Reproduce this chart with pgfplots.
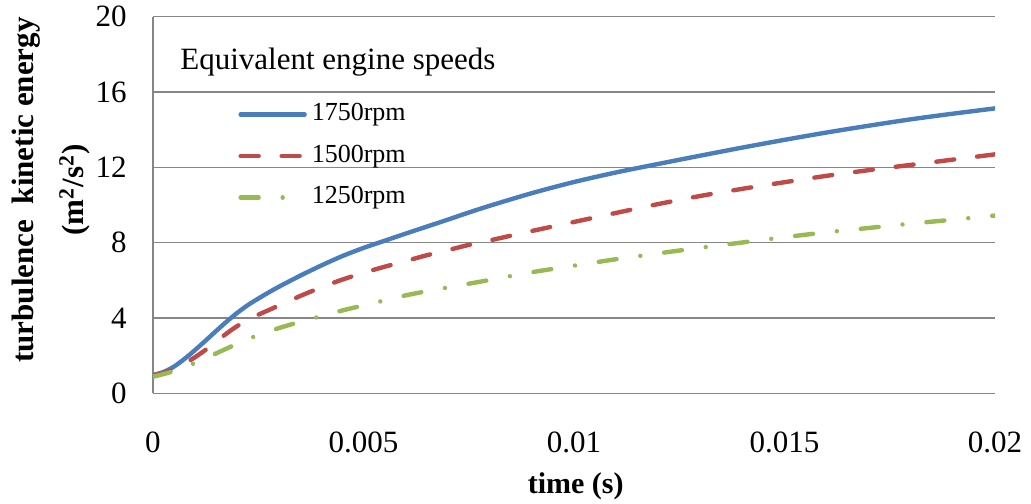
\documentclass[border=0pt]{standalone}
\usepackage{fontspec}
\setmainfont{Liberation Serif}
\usepackage{pgfplots}
\usepackage{pgfplotstable}
\pgfplotsset{compat=1.18}

\definecolor{cblue}{HTML}{4A7EBB}
\definecolor{cred}{HTML}{BE4B48}
\definecolor{cgreen}{HTML}{98B954}
\definecolor{gridgray}{HTML}{868686}

\pgfplotstableread{
t v
0 0.97
0.00025 1.13
0.0005 1.42
0.00075 1.83
0.001 2.30
0.00125 2.80
0.0015 3.31
0.00175 3.81
0.002 4.27
0.00225 4.68
0.0025 5.03
0.00275 5.36
0.003 5.67
0.0035 6.25
0.004 6.79
0.0045 7.29
0.005 7.72
0.0055 8.10
0.006 8.48
0.0065 8.85
0.007 9.22
0.0075 9.60
0.008 9.96
0.009 10.63
0.010 11.22
0.011 11.73
0.012 12.18
0.013 12.62
0.014 13.05
0.015 13.46
0.016 13.85
0.017 14.21
0.018 14.55
0.019 14.85
0.020 15.13
}\blue

\pgfplotstableread{
t v
0 0.95
0.00025 1.08
0.0005 1.30
0.00075 1.58
0.001 1.92
0.00125 2.31
0.0015 2.74
0.00175 3.18
0.002 3.57
0.00225 3.89
0.0025 4.17
0.00275 4.42
0.003 4.67
0.0035 5.17
0.004 5.63
0.0045 6.04
0.005 6.40
0.0055 6.72
0.006 7.02
0.0065 7.33
0.007 7.60
0.0075 7.88
0.008 8.12
0.009 8.62
0.010 9.10
0.011 9.58
0.012 10.05
0.013 10.48
0.014 10.86
0.015 11.21
0.016 11.55
0.017 11.85
0.018 12.13
0.019 12.41
0.020 12.69
}\red

\pgfplotstableread{
t v
0 0.88
0.0005 1.18
0.001 1.62
0.0015 2.12
0.002 2.63
0.0025 3.10
0.003 3.47
0.0035 3.80
0.004 4.10
0.0045 4.40
0.005 4.67
0.0055 4.93
0.006 5.20
0.0065 5.42
0.007 5.62
0.008 6.02
0.009 6.43
0.010 6.78
0.011 7.12
0.012 7.43
0.013 7.73
0.014 8.01
0.015 8.29
0.016 8.55
0.017 8.78
0.018 9.01
0.019 9.22
0.020 9.44
}\green

\begin{document}
\begin{tikzpicture}
\begin{axis}[
  scale only axis,
  width=421pt, height=188.3pt,
  xmin=0, xmax=0.02, ymin=0, ymax=20,
  axis x line*=bottom, axis y line*=left,
  axis line style={draw=gridgray, line width=0.7pt, -},
  x axis line style={-}, y axis line style={-},
  xtick={0,0.005,0.01,0.015,0.02},
  xticklabels={0,0.005,0.01,0.015,0.02},
  ytick={0,4,8,12,16,20},
  yticklabels={0,4,8,12,16,20},
  scaled x ticks=false,
  major tick length=0pt,
  tick style={draw=none},
  ymajorgrids,
  grid style={draw=gridgray, line width=0.7pt},
  xticklabel style={font=\fontsize{15.5}{18}\selectfont, inner sep=0pt, anchor=north, yshift=-18.9pt},
  yticklabel style={font=\fontsize{15.5}{18}\selectfont, inner sep=0pt, anchor=east, xshift=-13pt},
  xlabel={\textbf{time (s)}},
  xlabel style={font=\fontsize{15}{18}\selectfont, inner sep=0pt, at={(axis description cs:0.502,0)}, anchor=north, yshift=-39.3pt},
  ylabel={\textbf{turbulence\ \ kinetic energy}\\\textbf{(m\textsuperscript{2}/s\textsuperscript{2})}},
  ylabel style={font=\fontsize{15.5}{25}\selectfont, align=center, inner sep=0pt, at={(axis description cs:-0.1205,0.54)}, anchor=center},
  legend style={at={(axis description cs:0.101,0.773)}, anchor=north west, draw=none, fill=none,
    inner sep=0pt, row sep=8.75pt, column sep=2.5pt,
    nodes={inner sep=0pt, text height=9pt, text depth=3pt, font=\fontsize{13}{15}\selectfont}},
  legend cell align=left,
  legend image code/.code={\draw[#1] (0pt,0pt) -- (32pt,0pt);},
]
\addplot[cblue, line width=2.2pt, line cap=round, line join=round, smooth, tension=0.5] table[x=t,y=v]{\blue};
\addlegendentry{1750rpm}
\addplot[cred, line width=2.2pt, line cap=round, line join=round, dash pattern=on 9pt off 11.5pt, smooth, tension=0.5] table[x=t,y=v]{\red};
\addlegendentry{1500rpm}
\addplot[cgreen, line width=2.2pt, line cap=round, line join=round, dash pattern=on 9pt off 12pt on 0.01pt off 12pt, smooth, tension=0.5] table[x=t,y=v]{\green};
\addlegendentry{1250rpm}
\node[anchor=base west, inner sep=0pt, font=\fontsize{15.5}{18}\selectfont] at (axis description cs:0.032,0.8603) {Equivalent engine speeds};
\end{axis}
\pgfresetboundingbox
\path (-76.5pt,-54.85pt) rectangle (439pt,196.65pt);
\end{tikzpicture}
\end{document}
